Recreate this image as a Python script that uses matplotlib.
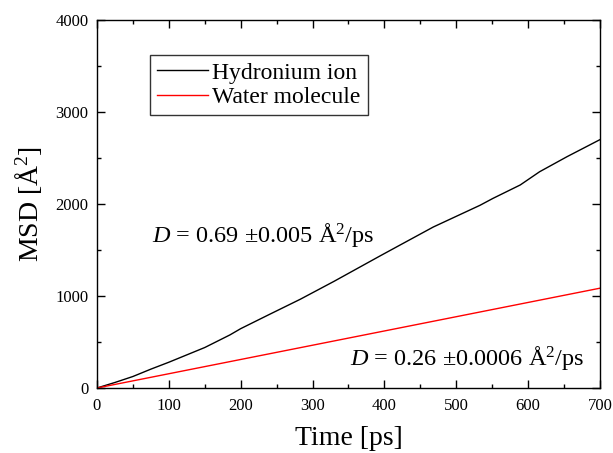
import matplotlib
matplotlib.use("Agg")
import matplotlib.pyplot as plt
from matplotlib.ticker import MultipleLocator

plt.rcParams['font.family'] = ['Liberation Serif', 'DejaVu Serif']
plt.rcParams['mathtext.fontset'] = 'custom'
plt.rcParams['mathtext.rm'] = 'Liberation Serif'
plt.rcParams['mathtext.it'] = 'Liberation Serif:italic'

# Mean square displacement vs time
hydronium_t = [0, 25, 50, 75, 100, 125, 150, 185, 200, 240, 283, 330, 394,
               422, 468, 533, 551, 589, 616, 654, 700]
hydronium_msd = [0, 60, 125, 205, 280, 360, 440, 577, 645, 800, 965, 1160,
                 1436, 1555, 1750, 1986, 2061, 2207, 2351, 2514, 2700]

water_t = [0, 100, 200, 300, 400, 500, 600, 700]
water_msd = [0, 155, 310, 465, 620, 775, 930, 1085]

series_labels = ["Hydronium ion", "Water molecule"]
annot_hydronium = r"$D$ = 0.69 $\pm$0.005 Å$^2$/ps"
annot_water = r"$D$ = 0.26 $\pm$0.0006 Å$^2$/ps"

fig = plt.figure(figsize=(6.13, 4.53), dpi=100)
ax = fig.add_axes([0.1582, 0.1435, 0.8206, 0.8123])

ax.plot(hydronium_t, hydronium_msd, color='black', lw=1.0, label=series_labels[0])
ax.plot(water_t, water_msd, color='red', lw=1.0, label=series_labels[1])

ax.set_xlim(0, 700)
ax.set_ylim(0, 4000)
ax.xaxis.set_major_locator(MultipleLocator(100))
ax.xaxis.set_minor_locator(MultipleLocator(50))
ax.yaxis.set_major_locator(MultipleLocator(1000))
ax.yaxis.set_minor_locator(MultipleLocator(500))
ax.tick_params(which='both', direction='in', top=True, right=True, labelsize=12)
ax.tick_params(axis='x', which='major', pad=7)
ax.tick_params(axis='y', which='major', pad=6)
ax.tick_params(which='major', length=6, width=1)
ax.tick_params(which='minor', length=3, width=1)
for s in ax.spines.values():
    s.set_linewidth(1.0)

ax.set_xlabel("Time [ps]", fontsize=20, labelpad=9)
ax.set_ylabel("MSD [Å$^2$]", fontsize=20, labelpad=8)

leg = ax.legend(loc='upper left', bbox_to_anchor=(0.105, 0.905), fontsize=17,
                frameon=True, fancybox=False, edgecolor='black',
                handlelength=2.15, handletextpad=0.2, borderpad=0.3,
                labelspacing=0.12, borderaxespad=0)
leg.get_frame().set_linewidth(1.0)

ax.text(76.5, 1590, annot_hydronium, fontsize=17.5, ha='left', va='baseline')
ax.text(352, 250, annot_water, fontsize=17.5, ha='left', va='baseline')

fig.savefig("out.png", dpi=100)
